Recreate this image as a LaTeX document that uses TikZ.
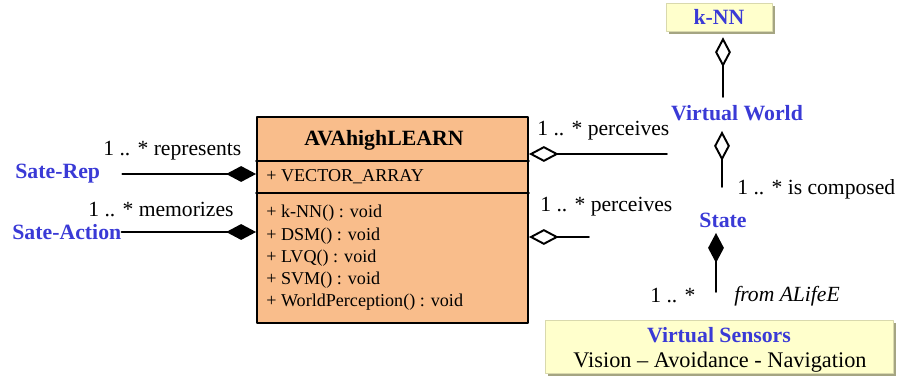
\documentclass[tikz,border=0pt]{standalone}
\usepackage{fontspec}
\setmainfont{Liberation Serif}
\usetikzlibrary{arrows.meta,shadows}
\definecolor{umlblue}{RGB}{58,58,214}
\definecolor{classfill}{RGB}{249,189,139}
\definecolor{notefill}{RGB}{255,255,204}
\definecolor{noteshade}{RGB}{165,165,130}
\tikzset{
  assoc/.style={line width=1.1pt},
  comp/.style={assoc,-{Diamond[length=17pt,width=9pt]}},
  aggr/.style={assoc,-{Diamond[length=17pt,width=9pt,open,fill=white]}},
  actor/.style={text=umlblue,font=\fontsize{12.4}{14}\selectfont\bfseries,inner sep=0pt},
  mult/.style={font=\fontsize{12.3}{14}\selectfont,inner sep=0pt},
  member/.style={font=\fontsize{10.3}{12}\selectfont,inner sep=0pt,anchor=west},
  classbox/.style={draw,line width=1.1pt,fill=classfill,minimum width=5.42cm,minimum height=4.12cm,inner sep=0pt},
  note/.style={fill=notefill,draw=notefill!85!black,line width=0.3pt,inner sep=0pt,
    drop shadow={shadow xshift=1.5pt,shadow yshift=-1.5pt,fill=noteshade,opacity=1}}
}
\begin{document}
\begin{tikzpicture}[x=0.02cm,y=-0.02cm,line cap=round,line join=round]
\useasboundingbox (0,0) rectangle (897,378);
% class box
\node[classbox] (learn) at (392.5,220) {};
\draw[line width=1pt] (learn.west |- 0,161) -- (learn.east |- 0,161);
\draw[line width=1pt] (learn.west |- 0,193) -- (learn.east |- 0,193);
\node[font=\fontsize{12.4}{14}\selectfont\bfseries] (title) at (384,140) {AVAhighLEARN};
\node[member] (attr) at (266,177) {+ VECTOR\_ARRAY};
\node[member] (mknn) at (266,213) {+ k-NN() : void};
\node[member] (mdsm) at (266,236) {+ DSM() : void};
\node[member] (mlvq) at (266,258) {+ LVQ() : void};
\node[member] (msvm) at (266,280) {+ SVM() : void};
\node[member] (mworld) at (266,302) {+ WorldPerception() : void};
% left side
\node[actor,anchor=west] (rep) at (15,174) {Sate-Rep};
\node[actor,anchor=west] (action) at (12,232) {Sate-Action};
\draw[comp,shorten <=0.44cm] (rep.east) -- (learn.west |- rep.east);
\draw[comp] (action.east) -- (learn.west |- action.east);
\node[mult,anchor=west] (represents) at (103,151) {1 .. * represents};
\node[mult,anchor=west] (memorizes) at (88,210) {1 .. * memorizes};
% right side
\coordinate (percA) at (667,154);
\coordinate (percB) at (589,237);
\draw[aggr] (percA) -- (learn.east |- percA);
\draw[aggr] (percB) -- (learn.east |- percB);
\node[mult,anchor=west] (perceivesA) at (537,131) {1 .. * perceives};
\node[mult,anchor=west] (perceivesB) at (540,207) {1 .. * perceives};
% world
\node[note,minimum width=2.12cm,minimum height=0.56cm] (knn) at (719,17) {};
\node[actor] (knnlabel) at (knn) {k-NN};
\node[actor] (vworld) at (737,113) {Virtual World};
\draw[aggr,shorten <=0.16cm,shorten >=0.12cm] (vworld.north -| 723,0) -- (knn.south -| 723,0);
\coordinate (compEnd) at (722,187);
\draw[aggr] (compEnd) -- (722,131);
\node[mult,anchor=west] (composed) at (737,189) {1 .. * is composed};
\node[actor] (state) at (723,220) {State};
\coordinate (sensEnd) at (716,292);
\draw[comp] (sensEnd) -- (716,233);
\node[mult,anchor=west] (sensmult) at (650,296) {1 .. *};
\node[mult,anchor=west,font=\fontsize{12.3}{14}\selectfont\itshape] (alife) at (734,296) {from ALifeE};
% sensors
\node[note,minimum width=6.96cm,minimum height=1.06cm] (sensors) at (719,346.5) {};
\node[actor] (senslabel) at (719,335) {Virtual Sensors};
\node[mult,font=\fontsize{12.7}{14}\selectfont] (senslist) at (720,362) {Vision -- Avoidance - Navigation};
\end{tikzpicture}
\end{document}
